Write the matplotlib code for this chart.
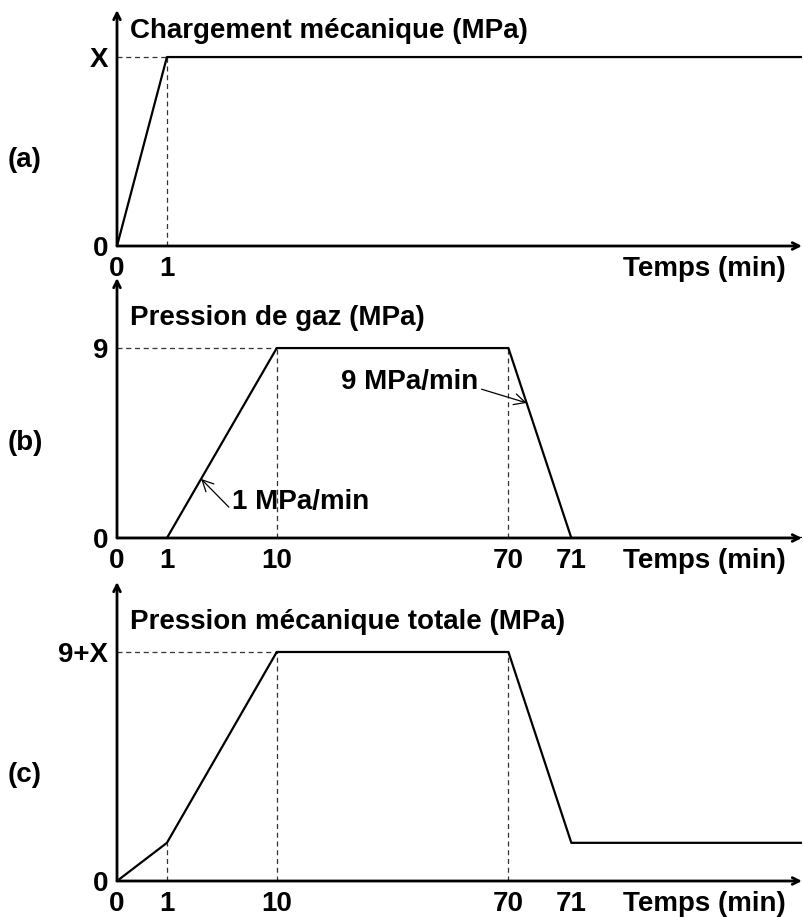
import numpy as np
import matplotlib
matplotlib.use("Agg")
import matplotlib.pyplot as plt

plt.rcParams['font.family'] = ['Liberation Sans', 'DejaVu Sans']
plt.rcParams['font.weight'] = 'bold'

# -- données (schéma) --
t_ticks = [0, 1, 10, 70, 71]
t_fin = 100

# (a) chargement mécanique
t_a = [0, 1, t_fin]
y_a = [0, 1, 1]
# (b) pression de gaz
t_b = [0, 1, 10, 70, 71, t_fin]
y_b = [0, 0, 9, 9, 0, 0]
# (c) pression mécanique totale
t_c = [0, 1, 10, 70, 71, t_fin]
y_c = [0, 1.8, 10.8, 10.8, 1.8, 1.8]

titres = ["Chargement mécanique (MPa)", "Pression de gaz (MPa)",
          "Pression mécanique totale (MPa)"]
etiquettes = ["(a)", "(b)", "(c)"]

# axe du temps non linéaire (schéma) : positions relatives des repères
knots_t = [0, 1, 10, 70, 71, t_fin]
knots_p = [0, 50, 160, 392, 455, 686]


def fwd(t):
    return np.interp(t, knots_t, knots_p)


def inv(p):
    return np.interp(p, knots_p, knots_t)


FS = 20

fig = plt.figure(figsize=(8.04, 9.17), dpi=100)
W = 804.0
H = 917.0


def faire_axe(bas, haut, ymax):
    ax = fig.add_axes([117 / W, 1 - bas / H, 685 / W, (bas - haut) / H])
    ax.patch.set_visible(False)
    ax.set_xscale('function', functions=(fwd, inv))
    ax.set_xlim(0, t_fin)
    ax.set_ylim(0, ymax)
    for s in ax.spines.values():
        s.set_visible(False)
    ax.tick_params(length=0, labelsize=FS)
    ax.tick_params(axis='x', pad=21.5)
    ax.tick_params(axis='y', pad=6.5)
    ax.annotate('', xy=(1, 0), xytext=(0, 0), xycoords='axes fraction',
                arrowprops=dict(arrowstyle='->', lw=2.0, color='black',
                                shrinkA=0, shrinkB=0, mutation_scale=12))
    ax.annotate('', xy=(0, 1), xytext=(0, 0), xycoords='axes fraction',
                arrowprops=dict(arrowstyle='->', lw=2.0, color='black',
                                shrinkA=0, shrinkB=0, mutation_scale=12))
    ax.annotate("Temps (min)", xy=(0.976, 0), xycoords='axes fraction',
                xytext=(0, -21.5), textcoords='offset points',
                ha='right', va='baseline', fontsize=FS, fontweight='bold')
    return ax


def pointilles(ax, xs, ys):
    ax.plot(xs, ys, color='#333333', lw=0.9, ls=(0, (4, 3)))


def graduer(ax, xt, yt, ylabs):
    ax.set_xticks(xt)
    ax.set_xticklabels([str(v) for v in xt], va='baseline')
    ax.set_yticks(yt)
    ax.set_yticklabels(ylabs)


# (a)
ax_a = faire_axe(246, 10, 1.249)
pointilles(ax_a, [0, 1], [1, 1])
pointilles(ax_a, [1, 1], [0, 1])
ax_a.plot(t_a, y_a, color='black', lw=1.6)
graduer(ax_a, [0, 1], [0, 1], ["0", "X"])

# (b)
ax_b = faire_axe(538, 278, 12.32)
pointilles(ax_b, [0, 10], [9, 9])
pointilles(ax_b, [10, 10], [0, 9])
pointilles(ax_b, [70, 70], [0, 9])
ax_b.plot(t_b, y_b, color='black', lw=1.6)
graduer(ax_b, t_ticks, [0, 9], ["0", "9"])
ax_b.annotate("9 MPa/min", xy=(70.29, 6.4), xytext=(62.3, 7.4),
              ha='right', va='center', fontsize=FS, fontweight='bold',
              arrowprops=dict(arrowstyle='->', lw=0.9, color='black',
                              relpos=(1, 0.25), shrinkA=0, shrinkB=0))
ax_b.annotate("1 MPa/min", xy=(3.8, 2.8), xytext=(6.3, 1.7),
              ha='left', va='center', fontsize=FS, fontweight='bold',
              arrowprops=dict(arrowstyle='->', lw=0.9, color='black',
                              relpos=(0, 0.2), shrinkA=0, shrinkB=0))

# (c)
ax_c = faire_axe(881, 582, 14.1)
pointilles(ax_c, [0, 10], [10.8, 10.8])
pointilles(ax_c, [1, 1], [0, 1.8])
pointilles(ax_c, [10, 10], [0, 10.8])
pointilles(ax_c, [70, 70], [0, 10.8])
ax_c.plot(t_c, y_c, color='black', lw=1.6)
graduer(ax_c, t_ticks, [0, 10.8], ["0", "9+X"])

# titres et étiquettes des panneaux
for titre, y in zip(titres, [31, 318, 622]):
    fig.text(130 / W, 1 - y / H, titre, ha='left', va='center',
             fontsize=FS, fontweight='bold')
for lab, y in zip(etiquettes, [160, 443, 775]):
    fig.text(8 / W, 1 - y / H, lab, ha='left', va='center',
             fontsize=FS, fontweight='bold')

fig.savefig("out.png", dpi=100)
